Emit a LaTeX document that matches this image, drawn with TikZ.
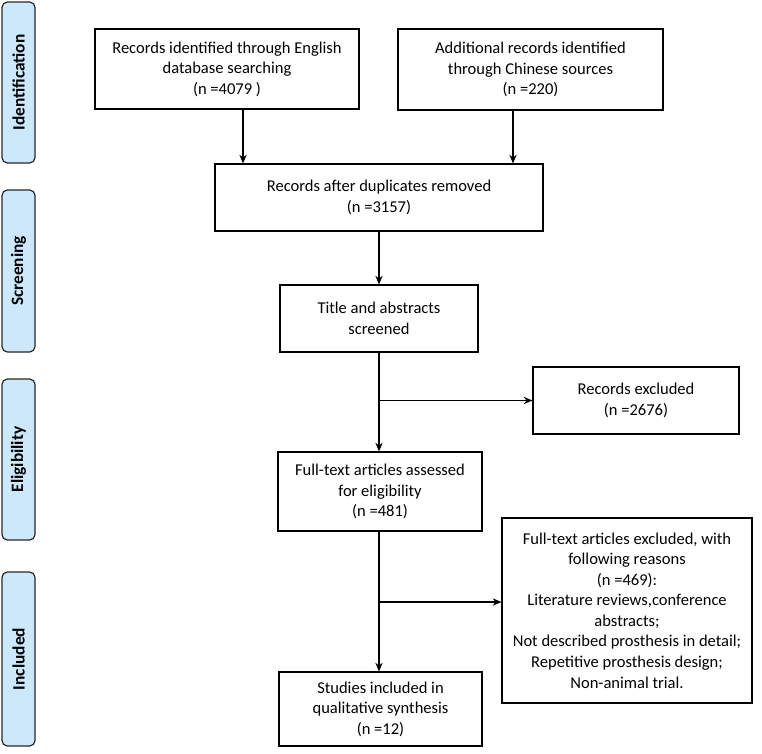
\documentclass[tikz,border=0pt]{standalone}
\usepackage{fontspec}
\setmainfont{Carlito}
\usetikzlibrary{arrows.meta}
\definecolor{sidefill}{RGB}{205,232,251}
\definecolor{sidedraw}{RGB}{40,40,40}
\tikzset{
  box/.style={draw=black, line width=0.9pt, fill=white, inner sep=0pt, align=center,
    font=\fontsize{12.4}{15.4}\selectfont},
  side/.style={draw=sidedraw, line width=0.9pt, fill=sidefill, rounded corners=4pt,
    rotate=90, inner sep=0pt, minimum height=24.75pt,
    font=\fontsize{13}{15}\selectfont\bfseries},
  arr/.style={line width=0.9pt, -{Stealth[length=6.5pt,width=5.5pt]}},
  ln/.style={line width=0.9pt}
}
\begin{document}
\begin{tikzpicture}[x=0.75pt,y=-0.75pt]
\useasboundingbox (0,0) rectangle (762,753);
% side labels
\node[side, minimum width=120.75pt] (sid) at (18.5,82.5) {Identification};
\node[side, minimum width=121.5pt] (sscr) at (18.5,271) {Screening};
\node[side, minimum width=120.75pt] (selg) at (18.5,459.5) {Eligibility};
\node[side, minimum width=130.5pt] (sinc) at (18.5,659) {Included};
% boxes
\node[box, minimum width=198pt, minimum height=60pt] (b1) at (227,69)
  {Records identified through English\\database searching\\(n =4079 )};
\node[box, minimum width=198.75pt, minimum height=60.75pt] (b2) at (530.5,69.5)
  {Additional records identified\\through Chinese sources\\(n =220)};
\node[box, minimum width=246pt, minimum height=50.25pt] (b3) at (379,197.5)
  {Records after duplicates removed\\(n =3157)};
\node[box, minimum width=148.5pt, minimum height=50.25pt] (b4) at (379,318.5)
  {Title and abstracts\\screened};
\node[box, minimum width=153pt, minimum height=59.25pt] (b5) at (380,491.5)
  {Full-text articles assessed\\for eligibility\\(n =481)};
\node[box, minimum width=152.25pt, minimum height=55.5pt] (b6) at (380.5,709)
  {Studies included in\\qualitative synthesis\\(n =12)};
\node[box, minimum width=154.5pt, minimum height=50.25pt] (e1) at (636,400.5)
  {Records excluded\\(n =2676)};
\node[box, minimum width=187.5pt, minimum height=138.75pt] (e2) at (627,610.5)
  {Full-text articles excluded, with\\following reasons\\(n =469):\\Literature reviews,conference\\abstracts;\\Not described prosthesis in detail;\\Repetitive prosthesis design;\\Non-animal trial.};
% connectors
\coordinate (c1) at (243,0);
\coordinate (c2) at (513,0);
\coordinate (cm) at (379,0);
\coordinate (br2) at (0,602);
\draw[arr] (c1 |- b1.south) -- (c1 |- b3.north);
\draw[arr] (c2 |- b2.south) -- (c2 |- b3.north);
\draw[arr] (cm |- b3.south) -- (cm |- b4.north);
\draw[arr] (cm |- b4.south) -- (cm |- b5.north);
\draw[arr] (cm |- b5.south) -- (cm |- b6.north);
\draw[arr] (cm |- e1.west) -- (e1.west);
\draw[arr] (cm |- br2) -- (e2.west |- br2);
\end{tikzpicture}
\end{document}
